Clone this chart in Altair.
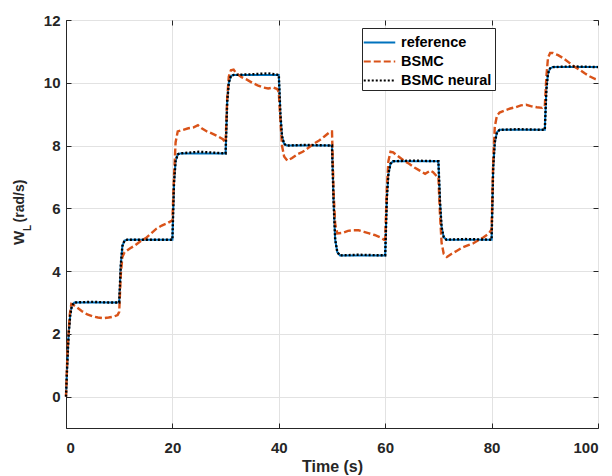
import altair as alt
import pandas as pd

# ---------------- data ----------------
SERIES = ["reference", "BSMC", "BSMC neural"]

REF_T = [0, 0.2, 0.5, 0.8, 1.1, 1.6, 10, 10.3, 10.6, 11, 11.5, 20, 20.3, 20.6, 21, 21.5,
         30, 30.3, 30.6, 31, 31.5, 40, 40.3, 40.6, 41, 41.5, 50, 50.3, 50.6, 51, 51.5,
         60, 60.3, 60.6, 61, 61.5, 70, 70.3, 70.6, 71, 71.5, 80, 80.3, 80.6, 81, 81.5,
         90, 90.3, 90.6, 91, 91.5, 100]
REF_Y = [0, 0.9, 2.0, 2.6, 2.9, 3.0, 3.0, 4.2, 4.8, 4.97, 5.0, 5.0, 6.8, 7.5, 7.72, 7.75,
         7.75, 9.4, 10.0, 10.22, 10.25, 10.25, 9.0, 8.3, 8.05, 8.0, 8.0, 6.2, 5.0, 4.6, 4.5,
         4.5, 6.3, 7.1, 7.42, 7.5, 7.5, 6.2, 5.4, 5.08, 5.0, 5.0, 7.3, 8.1, 8.42, 8.5,
         8.5, 9.8, 10.3, 10.46, 10.5, 10.5]

BSMC_T = [0, 0.3, 0.7, 1.0, 1.3, 2, 3, 4, 5, 6, 7, 8, 9, 9.7, 10,
          10.3, 10.6, 11, 12, 13, 14, 15, 16, 17, 18, 19, 19.8, 20,
          20.3, 20.6, 21, 22, 23, 24, 24.8, 25.5, 26.5, 27.5, 28.5, 29.5, 29.9, 30,
          30.3, 30.6, 31, 31.5, 32, 33, 34, 35, 36, 37, 38, 39, 39.7, 40,
          40.3, 40.6, 41, 41.6, 42.5, 43.5, 44.5, 45.5, 46.5, 47.5, 48.5, 49.5, 49.9, 50,
          50.3, 50.6, 51, 52, 53, 54, 55, 56, 57, 58, 59, 59.8, 60,
          60.3, 60.6, 61, 61.5, 62.5, 63.5, 64.5, 65.5, 66.5, 67.5, 68.5, 69, 69.8, 70,
          70.3, 70.6, 71, 71.6, 72.5, 73.5, 74.5, 75.5, 76.5, 77.5, 78.5, 79.5, 79.9, 80,
          80.3, 80.6, 81, 81.5, 82.5, 83.5, 84.5, 85.5, 86.5, 87.5, 88.5, 89.5, 89.9, 90,
          90.3, 90.6, 91, 91.5, 92.5, 93.5, 94.5, 95.5, 96.5, 97.5, 98.5, 99.5, 100]
BSMC_Y = [0, 1.5, 2.6, 2.95, 2.93, 2.85, 2.72, 2.62, 2.56, 2.52, 2.5, 2.52, 2.55, 2.6, 2.7,
          3.9, 4.45, 4.6, 4.72, 4.82, 4.95, 5.05, 5.2, 5.35, 5.45, 5.52, 5.6, 5.6,
          7.0, 8.1, 8.45, 8.5, 8.55, 8.58, 8.65, 8.55, 8.45, 8.38, 8.3, 8.2, 8.1, 8.1,
          9.5, 10.2, 10.4, 10.42, 10.3, 10.18, 10.1, 10.0, 9.92, 9.85, 9.82, 9.85, 9.8, 9.7,
          8.8, 8.0, 7.65, 7.52, 7.6, 7.72, 7.8, 7.92, 8.05, 8.15, 8.28, 8.42, 8.45, 8.45,
          6.5, 5.5, 5.2, 5.22, 5.28, 5.3, 5.3, 5.25, 5.2, 5.15, 5.08, 5.0, 5.0,
          6.6, 7.5, 7.8, 7.78, 7.65, 7.52, 7.42, 7.3, 7.2, 7.1, 7.2, 7.15, 7.0, 7.0,
          5.8, 4.9, 4.55, 4.45, 4.55, 4.65, 4.75, 4.82, 4.88, 4.98, 5.08, 5.2, 5.3, 5.3,
          7.5, 8.6, 8.95, 9.05, 9.12, 9.18, 9.22, 9.28, 9.3, 9.25, 9.22, 9.2, 9.25, 9.25,
          10.2, 10.8, 10.95, 10.95, 10.88, 10.78, 10.65, 10.52, 10.42, 10.3, 10.2, 10.12, 10.1]

NEU_T = [0, 0.2, 0.5, 0.8, 1.1, 1.6, 5, 8, 10, 10.3, 10.6, 11, 11.5, 15, 20, 20.3, 20.6, 21, 21.5, 25, 30,
         30.3, 30.6, 31, 31.5, 35, 38, 40, 40.3, 40.6, 41, 41.5, 45, 50, 50.3, 50.6, 51, 51.5, 55,
         60, 60.3, 60.6, 61, 61.5, 65, 70, 70.3, 70.6, 71, 71.5, 75, 80, 80.3, 80.6, 81, 81.5, 85,
         90, 90.3, 90.6, 91, 91.5, 95, 100]
NEU_Y = [0, 0.9, 2.0, 2.6, 2.9, 3.0, 3.02, 3.0, 3.0, 4.2, 4.8, 4.97, 5.0, 5.0, 5.0, 6.8, 7.5, 7.72, 7.75, 7.8, 7.75,
         9.4, 10.0, 10.22, 10.25, 10.27, 10.3, 10.25, 9.0, 8.3, 8.05, 8.0, 8.02, 8.0, 6.2, 5.0, 4.6, 4.5, 4.52,
         4.5, 6.3, 7.1, 7.42, 7.5, 7.52, 7.5, 6.2, 5.4, 5.08, 5.0, 5.02, 5.0, 7.3, 8.1, 8.42, 8.5, 8.52,
         8.5, 9.8, 10.3, 10.46, 10.5, 10.52, 10.5]

X_TICKS = [0, 20, 40, 60, 80, 100]
Y_TICKS = [0, 2, 4, 6, 8, 10, 12]

COLORS = ["#0072BD", "#D95319", "#000000"]
DASHES = [[1, 0], [7, 3], [2, 2]]
WIDTHS = [2.0, 2.4, 2.4]

rows = []
for name, ts, ys in zip(SERIES, [REF_T, BSMC_T, NEU_T], [REF_Y, BSMC_Y, NEU_Y]):
    for i, (t, v) in enumerate(zip(ts, ys)):
        rows.append({"t": t, "w": v, "series": name, "idx": i})
df = pd.DataFrame(rows)

FONT = "Liberation Sans"
INK = "#262626"
W, H = 532, 408

x_scale = alt.Scale(domain=[0, 100], nice=False, zero=False)
y_scale = alt.Scale(domain=[-1, 12], nice=False, zero=False)

x_main = alt.X("t:Q", scale=x_scale, axis=alt.Axis(
    values=X_TICKS, grid=True, gridColor="#e2e2e2", tickSize=0, domainColor=INK,
    labelFont=FONT, labelFontSize=15, labelFontWeight="bold", labelColor=INK, labelPadding=12,
    title="Time (s)", titleFont=FONT, titleFontSize=16, titleFontWeight="bold", titleColor=INK,
    titleBaseline="alphabetic", titleY=43))
y_main = alt.Y("w:Q", scale=y_scale, axis=alt.Axis(
    values=Y_TICKS, grid=True, gridColor="#e2e2e2", tickSize=0, domainColor=INK,
    labelFont=FONT, labelFontSize=15, labelFontWeight="bold", labelColor=INK, labelPadding=6,
    title=None))

legend = alt.Legend(orient="none", legendX=296, legendY=8, symbolType="M-1.5,0H1.5", symbolSize=441,
                    symbolOffset=3, symbolStrokeWidth=2, labelFont=FONT, labelFontSize=14.5,
                    labelFontWeight="bold", labelColor="#000000", strokeColor=INK, fillColor="white",
                    padding=3, rowPadding=1, labelOffset=10, title=None)
color = alt.Color("series:N", scale=alt.Scale(domain=SERIES, range=COLORS), legend=legend, title=None)
dash = alt.StrokeDash("series:N", scale=alt.Scale(domain=SERIES, range=DASHES), legend=legend, title=None)

layers = []
for name, sw in zip(SERIES, WIDTHS):
    layers.append(
        alt.Chart(df).transform_filter(alt.datum.series == name)
        .mark_line(strokeWidth=sw)
        .encode(x=x_main, y=y_main, color=color, strokeDash=dash, order="idx:Q")
    )
lines = alt.layer(*layers)

# inward ticks on all four sides
tick_ax = dict(tickSize=5, tickColor=INK, labels=False, domain=False, grid=False, title=None, offset=-5)
ticks_tr = alt.Chart(df).mark_point(opacity=0).encode(
    x=alt.X("t:Q", scale=x_scale, axis=alt.Axis(orient="top", values=X_TICKS, **tick_ax)),
    y=alt.Y("w:Q", scale=y_scale, axis=alt.Axis(orient="right", values=Y_TICKS, **tick_ax)))
ticks_bl = alt.Chart(df).mark_point(opacity=0).encode(
    x=alt.X("t:Q", scale=x_scale, axis=alt.Axis(orient="bottom", values=X_TICKS, **tick_ax)),
    y=alt.Y("w:Q", scale=y_scale, axis=alt.Axis(orient="left", values=Y_TICKS, **tick_ax)))

one = pd.DataFrame({"a": [0]})
ytitle_w = alt.Chart(one).mark_text(text="W", angle=270, font=FONT, fontSize=15, fontWeight="bold",
                                    color=INK, align="center", baseline="alphabetic").encode(
    x=alt.value(-42), y=alt.value(218))
ytitle_l = alt.Chart(one).mark_text(text="L", angle=270, font=FONT, fontSize=10, fontWeight="bold",
                                    color=INK, align="center", baseline="alphabetic").encode(
    x=alt.value(-35), y=alt.value(208))
ytitle_r = alt.Chart(one).mark_text(text="(rad/s)", angle=270, font=FONT, fontSize=14, fontWeight="bold",
                                    color=INK, align="center", baseline="alphabetic").encode(
    x=alt.value(-42), y=alt.value(181))

chart = alt.layer(lines, ticks_tr, ticks_bl, ytitle_w, ytitle_l, ytitle_r).resolve_axis(
    x="independent", y="independent"
).properties(
    width=W, height=H,
    padding={"left": 66, "top": 20, "right": 14, "bottom": 48},
    autosize=alt.AutoSizeParams(type="none"),
    background="white",
).configure_view(stroke=INK, strokeWidth=1)

chart.save("out.html", embed_options={"renderer": "svg", "actions": False})
